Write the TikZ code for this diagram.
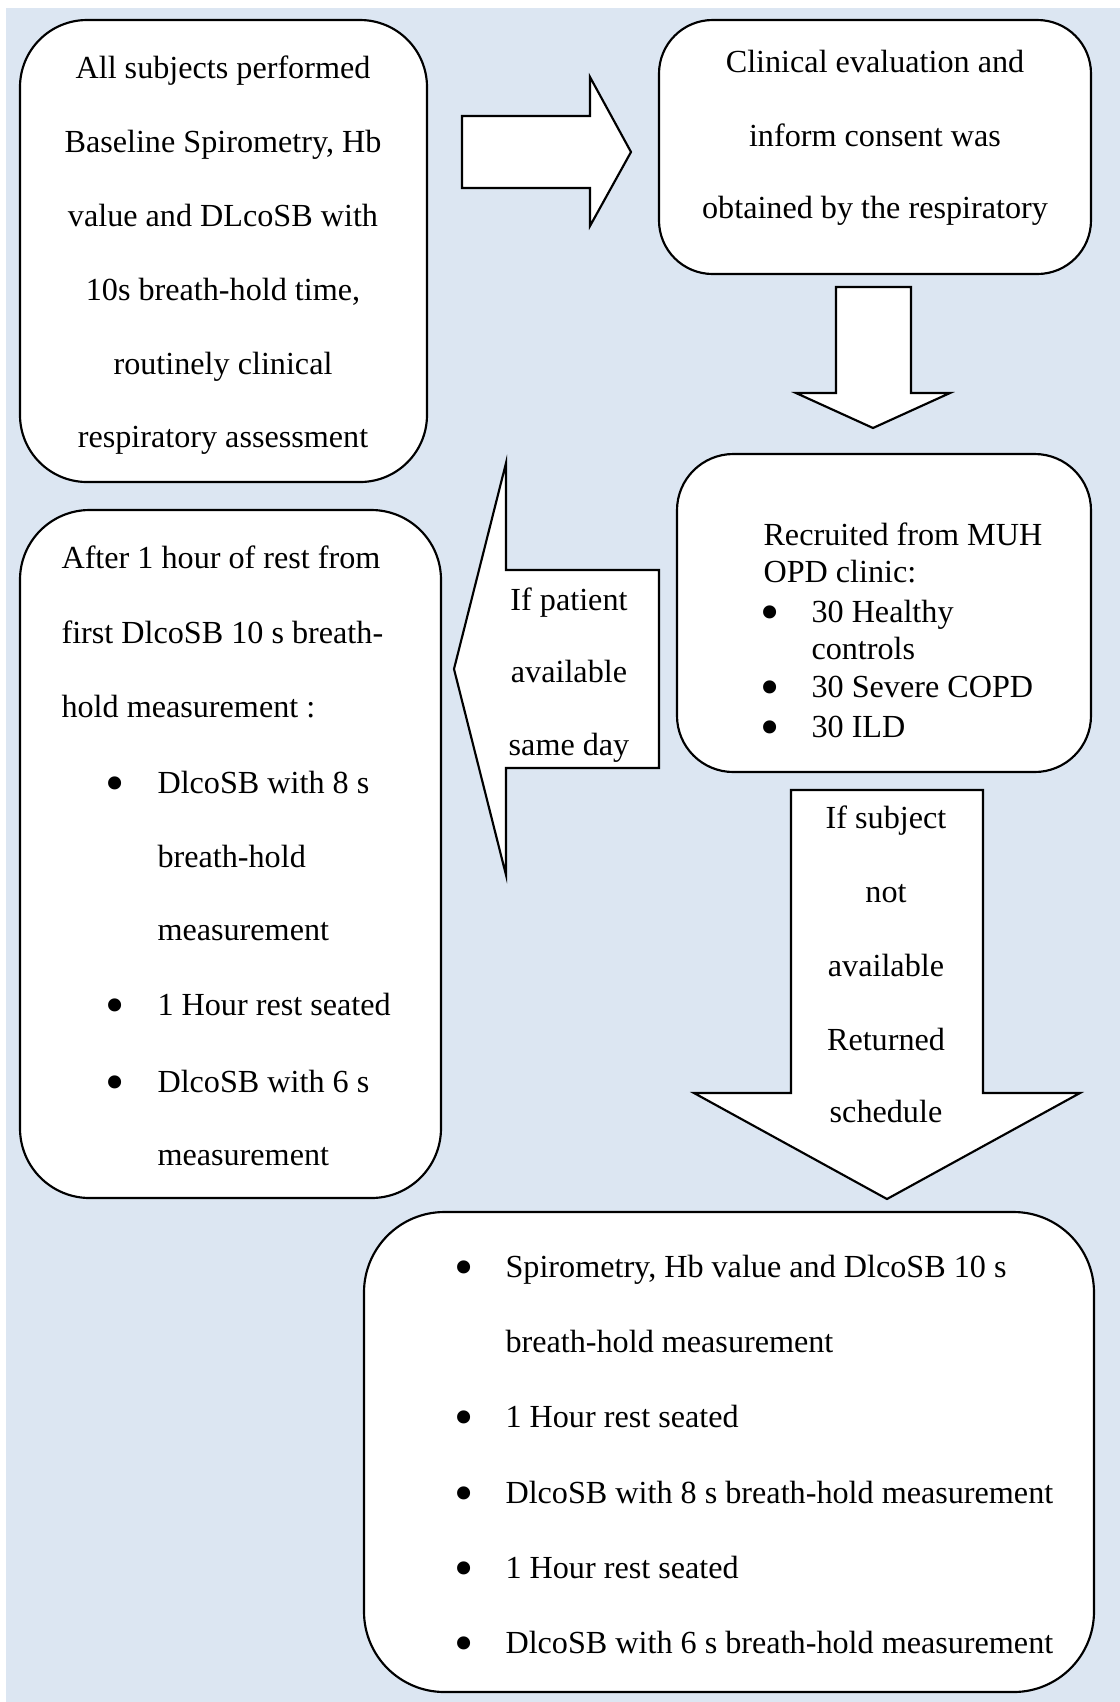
\documentclass[tikz,border=0pt]{standalone}
\usepackage{fontspec}
\setmainfont{Liberation Serif}
\newlength{\px}\setlength{\px}{0.373pt}
\definecolor{bgblue}{RGB}{220,230,242}
\newcommand{\bul}{\raisebox{-3pt}{\scalebox{1.7}{\textbullet}}}

\begin{document}
\begin{tikzpicture}[
  x=0.373pt, y=-0.373pt,
  font=\fontsize{12}{14}\selectfont,
  box/.style={rectangle,draw=black,line width=0.8pt,fill=white,rounded corners=#1,inner sep=0pt},
  box/.default=20pt,
  blockarrow/.style={draw=black,line width=0.8pt,fill=white,line join=miter},
  txt/.style={inner sep=0pt,anchor=base west},
  ctxt/.style={inner sep=0pt,anchor=base},
  bullet/.style={inner sep=0pt,anchor=base},
]
\useasboundingbox (0,0) rectangle (1120,1702);
\fill[bgblue] (6,8) rectangle (1120,1702);
% boxes
\node[box=25pt,minimum width=407\px,minimum height=462\px] (baseline) at (223.5,251) {};
\node[box=20pt,minimum width=432\px,minimum height=254\px] (consent) at (875,147) {};
\node[box=21pt,minimum width=414\px,minimum height=318\px] (recruit) at (884,613) {};
\node[box=26pt,minimum width=421\px,minimum height=688\px] (sameday) at (230.5,854) {};
\node[box=30pt,minimum width=730\px,minimum height=480\px] (returned) at (729,1452) {};
% block arrows
\draw[blockarrow] (462,116) -- (590,116) -- (590,77) -- (631,152) -- (590,226) -- (590,188) -- (462,188) -- cycle;
\draw[blockarrow] (836,287) -- (911,287) -- (911,393) -- (950,393) -- (873,428) -- (796,393) -- (836,393) -- cycle;
\draw[blockarrow] (659,570) -- (506,570) -- (506,463) -- (454,669) -- (506,875) -- (506,768) -- (659,768) -- cycle;
\draw[blockarrow] (791,790) -- (983,790) -- (983,1093) -- (1080,1093) -- (887,1199) -- (694,1093) -- (791,1093) -- cycle;
% text of baseline box
\node[ctxt] (a1) at (223,78) {All subjects performed};
\node[ctxt] (a2) at (223,152) {Baseline Spirometry, Hb};
\node[ctxt] (a3) at (223,226) {value and DLcoSB with};
\node[ctxt] (a4) at (223,300) {10s breath-hold time,};
\node[ctxt] (a5) at (223,374) {routinely clinical};
\node[ctxt] (a6) at (223,447) {respiratory assessment};
% text of consent box
\node[ctxt] (b1) at (875,72) {Clinical evaluation and};
\node[ctxt] (b2) at (875,146) {inform consent was};
\node[ctxt] (b3) at (875,218) {obtained by the respiratory};
% text of recruit box
\node[txt] (c1) at (763,545) {Recruited from MUH};
\node[txt] (c2) at (763,582) {OPD clinic:};
\node[bullet] (c3b) at (770,622) {\bul}; \node[txt] (c3) at (811,622) {30 Healthy};
\node[txt] (c4) at (811,659) {controls};
\node[bullet] (c5b) at (770,697) {\bul}; \node[txt] (c5) at (811,697) {30 Severe COPD};
\node[bullet] (c6b) at (770,737) {\bul}; \node[txt] (c6) at (811,737) {30 ILD};
% text of left arrow
\node[ctxt] (p1) at (569,610) {If patient};
\node[ctxt] (p2) at (569,682) {available};
\node[ctxt] (p3) at (569,755) {same day};
% text of sameday box
\node[txt] (d1) at (61,568) {After 1 hour of rest from};
\node[txt] (d2) at (61,643) {first DlcoSB 10 s breath-};
\node[txt] (d3) at (61,717) {hold measurement :};
\node[bullet] (d4b) at (115,793) {\bul}; \node[txt] (d4) at (157,793) {DlcoSB with 8 s};
\node[txt] (d5) at (157,867) {breath-hold};
\node[txt] (d6) at (157,940) {measurement};
\node[bullet] (d7b) at (115,1015) {\bul}; \node[txt] (d7) at (157,1015) {1 Hour rest seated};
\node[bullet] (d8b) at (115,1092) {\bul}; \node[txt] (d8) at (157,1092) {DlcoSB with 6 s};
\node[txt] (d9) at (157,1165) {measurement};
% text of big down arrow
\node[ctxt] (s1) at (886,828) {If subject};
\node[ctxt] (s2) at (886,902) {not};
\node[ctxt] (s3) at (886,976) {available};
\node[ctxt] (s4) at (886,1050) {Returned};
\node[ctxt] (s5) at (886,1122) {schedule};
% text of returned box
\node[bullet] (e1b) at (464,1277) {\bul}; \node[txt] (e1) at (505,1277) {Spirometry, Hb value and DlcoSB 10 s};
\node[txt] (e2) at (505,1352) {breath-hold measurement};
\node[bullet] (e3b) at (464,1427) {\bul}; \node[txt] (e3) at (505,1427) {1 Hour rest seated};
\node[bullet] (e4b) at (464,1503) {\bul}; \node[txt] (e4) at (505,1503) {DlcoSB with 8 s breath-hold measurement};
\node[bullet] (e5b) at (464,1578) {\bul}; \node[txt] (e5) at (505,1578) {1 Hour rest seated};
\node[bullet] (e6b) at (464,1653) {\bul}; \node[txt] (e6) at (505,1653) {DlcoSB with 6 s breath-hold measurement};
\end{tikzpicture}
\end{document}
